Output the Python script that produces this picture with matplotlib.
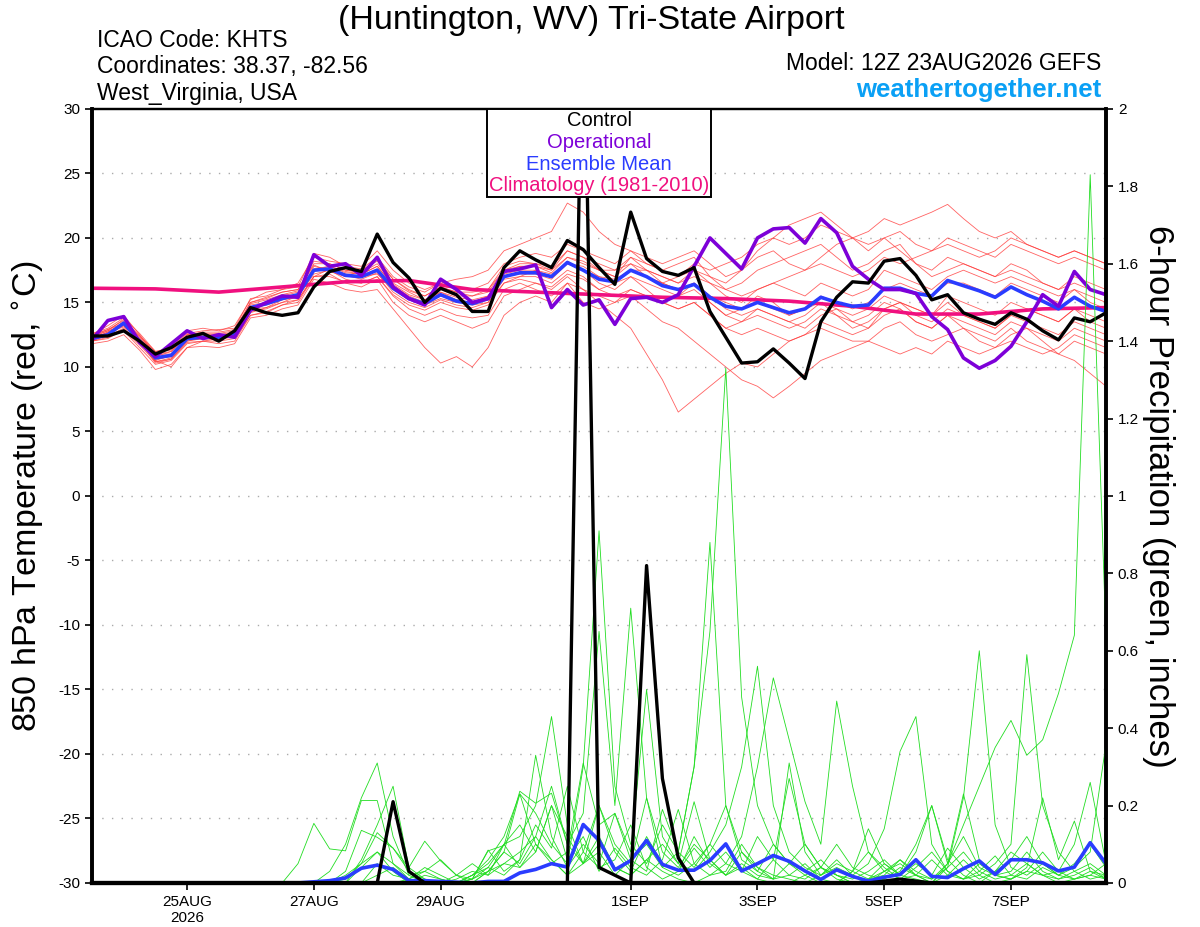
import numpy as np
import pandas as pd
import matplotlib
matplotlib.use("Agg")
import matplotlib.pyplot as plt
from matplotlib.offsetbox import TextArea, VPacker, AnchoredOffsetbox

plt.rcParams['font.family'] = ['Liberation Sans', 'DejaVu Sans']
plt.rcParams['axes.unicode_minus'] = False

# 6-hourly forecast times, 12Z 23AUG2026 + 0..384 h
times = pd.date_range('2026-08-23 12:00', periods=65, freq='6h')
clim_times = pd.date_range('2026-08-23 12:00', periods=17, freq='D')

# --- 850 hPa temperature (C) ---
t_mean = [12.2, 12.5, 13.4, 12.0, 10.7, 10.9, 12.2, 12.3, 12.3, 12.5, 14.6, 14.9, 15.3, 15.6,
          17.5, 17.6, 17.1, 17.0, 17.5, 16.1, 15.3, 14.9, 15.6, 15.1, 14.9, 15.3, 17.0, 17.3,
          17.3, 17.0, 18.1, 17.5, 16.8, 16.6, 17.5, 17.0, 16.3, 16.0, 16.4, 15.4, 14.7, 14.5,
          15.0, 14.6, 14.2, 14.5, 15.4, 15.0, 14.7, 14.8, 16.1, 16.1, 15.7, 15.5, 16.7, 16.3,
          15.9, 15.4, 16.2, 15.6, 15.1, 14.5, 15.4, 14.7, 14.3]
t_ctrl = [12.4, 12.4, 12.8, 12.0, 11.0, 11.5, 12.3, 12.6, 12.0, 12.8, 14.6, 14.2, 14.0, 14.2,
          16.2, 17.4, 17.7, 17.4, 20.3, 18.1, 16.9, 15.0, 16.1, 15.6, 14.3, 14.3, 17.7, 19.0,
          18.3, 17.7, 19.8, 19.1, 17.7, 16.4, 22.0, 18.4, 17.4, 17.1, 17.7, 14.3, 12.3, 10.3,
          10.4, 11.4, 10.3, 9.1, 13.5, 15.4, 16.6, 16.5, 18.2, 18.4, 17.1, 15.2, 15.6, 14.2,
          13.7, 13.3, 14.2, 13.7, 12.8, 12.1, 13.8, 13.5, 14.2]
t_oper = [12.1, 13.6, 13.9, 11.9, 10.8, 11.8, 12.8, 12.2, 12.5, 12.3, 14.4, 15.0, 15.5, 15.4,
          18.7, 17.8, 18.0, 17.1, 18.5, 16.2, 15.3, 14.8, 16.8, 16.0, 15.0, 15.3, 17.4, 17.6,
          17.9, 14.6, 16.0, 14.8, 15.2, 13.3, 15.3, 15.4, 15.0, 15.6, 17.8, 20.0, 18.8, 17.6,
          20.0, 20.7, 20.8, 19.6, 21.5, 20.4, 17.8, 16.8, 16.0, 16.0, 15.7, 13.9, 12.9, 10.7,
          9.9, 10.5, 11.6, 13.5, 15.6, 14.7, 17.4, 16.0, 15.6]
t_clim = [16.1, 16.05, 15.8, 16.2, 16.6, 16.7, 16.0, 15.8, 15.6, 15.4, 15.3, 15.1, 14.7,
          14.1, 14.1, 14.5, 14.6]

t_members = [
    [12.5, 13.2, 14.0, 12.5, 11.0, 11.5, 12.8, 13.0, 12.8, 13.2, 15.2, 15.8, 16.0, 16.5, 18.5, 18.2, 18.0,
     17.8, 19.0, 17.5, 16.5, 16.0, 16.5, 16.8, 17.0, 17.5, 19.0, 19.5, 20.0, 20.5, 22.7, 22.0, 20.5, 19.5,
     19.0, 18.0, 17.5, 18.0, 18.5, 17.0, 16.0, 16.5, 17.5, 18.0, 18.5, 19.0, 19.5, 18.5, 17.5, 18.0, 19.0,
     19.5, 18.0, 17.0, 17.5, 18.0, 17.5, 17.0, 18.0, 17.5, 16.5, 16.0, 17.0, 16.5, 16.0],
    [12.0, 12.3, 12.8, 11.5, 10.2, 10.5, 11.8, 12.0, 11.8, 12.0, 14.0, 14.2, 14.8, 15.0, 17.0, 17.2, 16.5,
     16.2, 16.8, 15.0, 14.0, 13.5, 14.0, 13.5, 13.0, 13.5, 15.5, 16.0, 16.5, 16.0, 17.0, 16.0, 15.0, 14.0,
     13.0, 11.0, 9.0, 6.5, 7.5, 8.5, 9.5, 10.3, 10.0, 11.0, 12.0, 12.5, 13.5, 13.0, 12.5, 13.0, 14.0,
     14.5, 13.5, 13.0, 14.0, 13.5, 13.0, 12.5, 13.5, 13.0, 12.5, 12.0, 13.0, 12.5, 12.0],
    [12.3, 12.8, 13.2, 12.0, 10.5, 10.0, 11.5, 12.0, 12.2, 12.3, 14.5, 14.6, 15.0, 15.5, 17.8, 17.5, 16.8,
     16.5, 17.0, 15.5, 14.5, 14.0, 14.5, 14.0, 13.8, 14.0, 16.0, 16.5, 16.0, 15.5, 16.5, 15.0, 14.5, 15.0,
     15.5, 14.5, 13.5, 13.0, 12.0, 11.0, 10.0, 9.0, 8.5, 7.6, 8.5, 9.5, 10.5, 11.0, 11.5, 12.0, 13.0,
     13.5, 12.5, 12.0, 12.5, 13.0, 12.0, 11.5, 12.5, 13.0, 12.0, 11.0, 12.0, 11.5, 11.0],
    [12.4, 12.9, 13.6, 12.2, 10.8, 11.2, 12.4, 12.5, 12.6, 12.8, 15.0, 15.3, 15.8, 16.0, 18.0, 18.0, 17.5,
     17.3, 18.0, 16.5, 15.8, 15.2, 16.0, 15.5, 15.5, 16.0, 17.5, 18.0, 18.0, 17.5, 19.0, 18.5, 17.5, 17.0,
     18.5, 18.0, 17.5, 17.0, 18.0, 17.5, 18.0, 18.5, 19.5, 20.0, 19.5, 20.0, 21.0, 20.5, 20.0, 20.5, 21.5,
     21.0, 21.5, 22.0, 22.6, 21.5, 20.5, 20.0, 20.5, 19.5, 19.0, 18.5, 19.0, 18.5, 18.0],
    [12.1, 12.4, 13.0, 11.8, 10.6, 10.8, 12.0, 12.2, 12.1, 12.4, 14.2, 14.6, 15.2, 15.4, 17.2, 17.5, 17.0,
     17.0, 17.2, 16.0, 15.2, 14.8, 15.3, 15.0, 14.8, 15.0, 16.8, 17.0, 17.5, 17.2, 18.0, 17.8, 17.0, 16.5,
     17.0, 16.5, 16.0, 15.5, 16.0, 15.0, 14.0, 13.5, 14.5, 14.0, 13.5, 13.0, 14.0, 14.5, 13.5, 13.0, 14.5,
     15.0, 14.5, 14.0, 15.5, 15.0, 14.5, 14.0, 15.0, 14.5, 14.0, 13.5, 14.5, 13.5, 13.0],
    [12.2, 12.7, 13.5, 12.3, 11.0, 11.0, 12.3, 12.5, 12.4, 12.6, 14.8, 15.0, 15.5, 15.8, 17.6, 17.8, 17.3,
     17.2, 17.8, 16.3, 15.5, 15.0, 15.8, 15.2, 15.0, 15.5, 17.2, 17.5, 17.5, 17.0, 18.2, 17.5, 16.5, 16.0,
     17.0, 16.0, 15.0, 15.5, 16.5, 15.0, 14.0, 14.5, 15.5, 15.0, 14.0, 14.5, 15.0, 14.0, 13.5, 14.0, 15.0,
     14.5, 13.5, 13.0, 14.0, 13.0, 12.5, 12.0, 13.0, 12.0, 11.5, 11.0, 10.5, 9.5, 8.5],
    [12.6, 13.0, 13.8, 12.6, 11.2, 11.5, 12.6, 12.8, 12.9, 13.0, 15.3, 15.5, 16.0, 16.2, 18.8, 18.5, 17.8,
     17.6, 18.5, 17.0, 16.2, 15.8, 16.5, 16.0, 16.0, 16.5, 18.0, 18.5, 18.8, 18.5, 19.5, 19.0, 18.5, 18.0,
     19.0, 18.5, 18.0, 18.5, 19.0, 18.0, 17.0, 17.5, 18.5, 19.0, 18.0, 17.5, 18.5, 19.5, 20.0, 19.0, 20.0,
     20.5, 19.5, 19.0, 20.0, 19.5, 19.0, 18.5, 19.5, 19.0, 18.5, 18.0, 18.5, 18.0, 17.5],
    [11.8, 12.0, 12.5, 11.3, 9.8, 10.2, 11.5, 11.6, 11.5, 11.8, 13.8, 14.0, 14.5, 14.8, 16.8, 16.5, 16.0,
     15.8, 16.0, 14.5, 13.0, 11.5, 10.3, 10.8, 10.0, 11.5, 14.0, 15.0, 15.5, 15.0, 16.5, 16.0, 15.5, 15.0,
     16.0, 15.5, 15.0, 14.5, 15.0, 14.0, 13.0, 13.5, 14.0, 13.5, 13.0, 13.5, 14.5, 14.0, 13.0, 13.5, 14.5,
     15.0, 14.0, 13.5, 14.5, 14.0, 13.5, 13.0, 14.0, 13.5, 13.0, 12.5, 13.5, 13.0, 12.5],
    [12.3, 12.6, 13.2, 12.1, 10.4, 10.7, 12.1, 12.2, 12.3, 12.5, 14.6, 14.8, 15.2, 15.6, 17.4, 17.6, 17.2,
     17.0, 17.6, 16.2, 15.4, 14.9, 15.5, 15.2, 15.0, 15.2, 17.0, 17.2, 17.2, 16.8, 18.0, 17.5, 17.0, 16.8,
     17.5, 17.0, 16.5, 16.0, 16.5, 15.5, 15.0, 14.5, 15.0, 14.5, 14.0, 14.5, 15.5, 15.0, 14.5, 15.0, 16.0,
     16.5, 16.0, 15.5, 16.5, 16.5, 16.0, 15.5, 16.5, 16.0, 15.5, 15.0, 16.0, 15.0, 14.5],
    [12.0, 12.5, 13.3, 12.0, 10.3, 10.6, 12.0, 12.3, 12.4, 12.6, 14.4, 15.0, 15.5, 15.6, 17.5, 17.8, 17.4,
     17.2, 17.8, 16.4, 15.6, 15.2, 15.8, 15.4, 15.2, 15.5, 17.3, 17.8, 17.8, 17.5, 18.5, 18.0, 17.5, 17.0,
     18.0, 17.5, 17.0, 16.5, 17.5, 17.0, 16.5, 17.5, 19.0, 20.0, 21.0, 21.5, 22.0, 21.0, 20.0, 19.5, 20.0,
     19.0, 18.0, 17.5, 18.5, 18.0, 17.5, 17.0, 17.5, 17.0, 16.5, 16.0, 16.5, 16.0, 15.5],
    [12.5, 12.9, 13.4, 12.4, 11.2, 11.3, 12.5, 12.6, 12.5, 12.7, 14.9, 15.2, 15.6, 15.9, 17.9, 17.4, 17.0,
     17.5, 18.2, 16.8, 15.9, 15.5, 16.2, 15.8, 15.5, 15.8, 17.5, 17.8, 17.8, 17.3, 18.5, 18.2, 17.5, 17.5,
     18.5, 17.5, 16.5, 16.0, 16.5, 15.5, 14.5, 14.0, 14.5, 14.0, 13.5, 14.0, 15.0, 14.5, 14.0, 14.5, 15.5,
     15.0, 14.5, 14.0, 15.0, 14.0, 13.5, 13.0, 14.0, 14.5, 14.0, 13.5, 14.5, 14.0, 13.5],
    [12.2, 12.7, 13.1, 12.1, 10.5, 10.9, 12.2, 12.4, 12.2, 12.4, 14.3, 14.5, 15.0, 15.2, 17.0, 17.6, 17.1,
     16.8, 17.3, 15.8, 15.0, 14.6, 15.2, 14.8, 14.6, 15.0, 16.5, 17.0, 17.0, 16.5, 17.5, 17.0, 16.0, 16.5,
     17.5, 17.5, 17.0, 16.5, 17.0, 16.5, 16.0, 15.5, 16.0, 16.5, 16.0, 15.5, 16.5, 16.0, 15.5, 16.0, 17.5,
     17.0, 16.5, 16.0, 17.0, 17.5, 17.0, 16.5, 17.0, 16.5, 16.0, 15.5, 16.0, 15.5, 15.0],
    [12.4, 12.8, 13.7, 12.4, 11.0, 11.2, 12.5, 12.7, 12.7, 12.9, 15.0, 15.4, 15.8, 16.0, 18.2, 18.0, 17.5,
     17.4, 18.4, 16.8, 16.0, 15.5, 16.2, 15.8, 15.8, 16.0, 17.8, 18.2, 18.0, 17.8, 19.0, 18.5, 18.0, 17.5,
     18.0, 17.0, 16.5, 17.0, 17.5, 16.5, 15.5, 15.0, 16.0, 16.5, 17.0, 17.5, 18.0, 17.5, 17.0, 17.5, 18.5,
     18.0, 18.5, 19.0, 19.5, 19.0, 18.5, 19.0, 20.0, 19.5, 19.0, 18.5, 19.0, 18.5, 18.0],
    [12.0, 12.2, 12.9, 11.7, 10.4, 10.6, 11.9, 12.0, 12.0, 12.2, 14.0, 14.3, 14.8, 15.2, 17.0, 17.0, 16.6,
     16.5, 17.0, 15.6, 14.8, 14.4, 15.0, 14.6, 14.4, 14.8, 16.5, 16.8, 16.5, 16.2, 17.2, 16.8, 16.0, 15.5,
     16.0, 15.5, 15.0, 14.5, 15.0, 14.0, 13.0, 12.5, 13.0, 12.5, 12.0, 12.5, 13.0, 12.5, 12.0, 12.0, 11.5,
     11.0, 11.5, 11.0, 12.0, 11.5, 11.0, 11.5, 12.0, 11.5, 11.0, 11.5, 12.5, 12.0, 11.5],
]

# --- 6-hour precipitation (inches) ---
p_mean = [0] * 14 + [0.003, 0.006, 0.013, 0.038, 0.046, 0.035, 0.006, 0.006, 0.004, 0.002, 0.0,
          0.004, 0.004, 0.026, 0.035, 0.05, 0.041, 0.151, 0.11, 0.034, 0.058, 0.11, 0.048, 0.033,
          0.033, 0.058, 0.101, 0.031, 0.05, 0.071, 0.056, 0.031, 0.009, 0.034, 0.017, 0.005, 0.015,
          0.022, 0.06, 0.017, 0.014, 0.037, 0.057, 0.022, 0.06, 0.06, 0.052, 0.031, 0.041, 0.104, 0.05]
p_ctrl = [0] * 19 + [0.21, 0.03] + [0] * 10 + [2.4, 0.04, 0.02, 0.0, 0.82, 0.27, 0.065] + [0] * 12 + \
         [0.005, 0.01, 0.005] + [0] * 12

p_members = [
    [0] * 16 + [0.02, 0.05, 0.08, 0.03, 0, 0, 0, 0, 0.01, 0.03, 0.05, 0.08, 0.12, 0.06, 0.02, 0.05, 0.10,
                0.04, 0.02, 0.06, 0.03, 0.01, 0, 0.02, 0.05, 0.03, 0.01, 0, 0, 0.02, 0.04, 0.01, 0, 0,
                0.03, 0.06, 0.02, 0, 0.05, 0.15, 0.25, 0.35, 0.42, 0.33, 0.37, 0.49, 0.64, 1.83, 0.63],
    [0] * 15 + [0.03, 0.10, 0.22, 0.31, 0.12, 0.02, 0, 0, 0, 0.02, 0.04, 0.10, 0.15, 0.08, 0.20, 0.12,
                0.05, 0.08, 0.02, 0.06, 0.10, 0.04, 0.08, 0.30, 0.65, 1.33, 0.48, 0.20, 0.10, 0.05, 0.03,
                0.06, 0.02, 0, 0.01, 0.03, 0.05, 0.02, 0, 0.04, 0.08, 0.03, 0.01, 0.02, 0.05, 0.02, 0.01,
                0.03, 0.05, 0.02],
    [0] * 16 + [0.01, 0.05, 0.13, 0.09, 0.03, 0.01, 0, 0, 0.02, 0.06, 0.12, 0.23, 0.18, 0.10, 0.05, 0.30,
                0.91, 0.25, 0.10, 0.05, 0.15, 0.08, 0.30, 0.88, 0.20, 0.08, 0.03, 0.10, 0.05, 0.02, 0, 0,
                0.03, 0.14, 0.05, 0.02, 0.01, 0, 0.02, 0.06, 0.02, 0, 0.01, 0.03, 0.02, 0, 0.01, 0.02,
                0.01],
    [0] * 17 + [0.04, 0.08, 0.05, 0.02, 0.03, 0.01, 0, 0, 0.03, 0.08, 0.05, 0.12, 0.25, 0.10, 0.18, 0.65,
                0.20, 0.71, 0.22, 0.08, 0.04, 0.10, 0.06, 0.02, 0.08, 0.04, 0.01, 0.05, 0.10, 0.04, 0.02,
                0, 0.01, 0.05, 0.02, 0.08, 0.20, 0.06, 0.02, 0, 0.03, 0.08, 0.05, 0.02, 0.03, 0.10, 0.26,
                0.05],
    [0] * 18 + [0.02, 0.04, 0.01, 0, 0, 0, 0.02, 0.05, 0.10, 0.12, 0.20, 0.43, 0.15, 0.05, 0.12, 0.04,
                0.02, 0.06, 0.10, 0.05, 0.03, 0.08, 0.15, 0.30, 0.56, 0.20, 0.08, 0.04, 0.02, 0.05, 0.03,
                0.01, 0.02, 0.06, 0.03, 0.01, 0.04, 0.22, 0.60, 0.15, 0.04, 0.02, 0.05, 0.02, 0.01, 0.03,
                0.02],
    [0] * 20 + [0.01, 0.03, 0.06, 0.02, 0, 0.03, 0.08, 0.23, 0.10, 0.05, 0.08, 0.31, 0.15, 0.18, 0.06,
                0.03, 0.19, 0.08, 0.04, 0.10, 0.05, 0.12, 0.30, 0.53, 0.37, 0.21, 0.10, 0.47, 0.25, 0.08,
                0.03, 0.01, 0.04, 0.08, 0.03, 0.01, 0.02, 0.05, 0.10, 0.59, 0.20, 0.08, 0.03, 0.01, 0.02],
    [0] * 21 + [0.02, 0.01, 0, 0.01, 0.085, 0.03, 0.06, 0.33, 0.12, 0.04, 0.10, 0.05, 0.18, 0.08, 0.50,
                0.12, 0.05, 0.21, 0.06, 0.02, 0.05, 0.02, 0.01, 0.31, 0.08, 0.02, 0.04, 0.02, 0.05, 0.14,
                0.34, 0.43, 0.10, 0.03, 0.01, 0.05, 0.02, 0.01, 0.04, 0.22, 0.06, 0.16, 0.03, 0.01],
    [0] * 13 + [0.05, 0.154, 0.088, 0.083, 0.213, 0.213, 0.05, 0.01, 0, 0, 0.02, 0.05, 0.02, 0.10, 0.04,
                0.08, 0.20, 0.06, 0.12, 0.03, 0.09, 0.04, 0.02, 0.06, 0.19, 0.05, 0.02, 0.03, 0.10, 0.04,
                0.02, 0.01, 0, 0.02, 0.06, 0.02, 0, 0.01, 0.03, 0.10, 0.20, 0.05, 0.23, 0.06, 0.02, 0.03,
                0.08, 0.03, 0.01, 0.02, 0.04, 0.01],
    [0] * 16 + [0.03, 0.136, 0.118, 0.09, 0.04, 0.108, 0.057, 0.02, 0.01, 0.083, 0.097, 0.237, 0.206,
                0.232, 0.10, 0.05, 0.20, 0.08, 0.03, 0.12, 0.05, 0.03, 0.09, 0.04, 0.08, 0.03, 0.12, 0.06,
                0.27, 0.10, 0.04, 0.02, 0.01, 0.03, 0.06, 0.02, 0.05, 0.02, 0.09, 0.04, 0.01, 0.03, 0.06,
                0.12, 0.05, 0.02, 0.04, 0.08, 0.36],
    [0] * 17 + [0.06, 0.15, 0.25, 0.04, 0.01, 0, 0.01, 0.03, 0.02, 0.05, 0.04, 0.10, 0.06, 0.02, 0.08,
                0.20, 0.10, 0.05, 0.22, 0.04, 0.02, 0.05, 0.10, 0.20, 0.06, 0.03, 0.01, 0.02, 0.05, 0.01,
                0, 0.03, 0.08, 0.04, 0.01, 0.02, 0.06, 0.02, 0.01, 0.03, 0.07, 0.02, 0.01, 0.04, 0.02,
                0.05, 0.10, 0.04],
    [0] * 18 + [0.05, 0.02, 0.01, 0.04, 0.02, 0, 0.01, 0.04, 0.02, 0.06, 0.15, 0.09, 0.25, 0.08, 0.04,
                0.06, 0.15, 0.04, 0.01, 0.03, 0.12, 0.05, 0.02, 0.04, 0.01, 0.06, 0.02, 0.01, 0.04, 0.10,
                0.04, 0.02, 0.01, 0.04, 0.02, 0.01, 0.05, 0.12, 0.04, 0.02, 0.01, 0.03, 0.08, 0.03, 0.01,
                0.02, 0.05],
]

tick_dates = pd.to_datetime(['2026-08-25', '2026-08-27', '2026-08-29', '2026-09-01',
                             '2026-09-03', '2026-09-05', '2026-09-07'])
tick_labels = ['25AUG\n2026', '27AUG', '29AUG', '1SEP', '3SEP', '5SEP', '7SEP']

RED = '#ff3b3b'
GREEN = '#22dd22'
PURPLE = '#7d00d8'
BLUE = '#2a3cff'
PINK = '#f0107f'

fig = plt.figure(figsize=(12, 9.27), dpi=100)
ax = fig.add_axes([0.0767, 0.0475, 0.845, 0.835])
ax2 = ax.twinx()

for m in t_members:
    ax.plot(times, m, color=RED, lw=0.6, alpha=0.8)
ax.plot(clim_times, t_clim, color=PINK, lw=2.6)
ax.plot(times, t_mean, color=BLUE, lw=2.6)
ax.plot(times, t_oper, color=PURPLE, lw=2.6)
ax.plot(times, t_ctrl, color='black', lw=2.4)

for m in p_members:
    ax2.plot(times, m, color=GREEN, lw=0.6)
ax2.plot(times, p_mean, color=BLUE, lw=2.6)
ax2.plot(times, p_ctrl, color='black', lw=2.4)

ax.set_ylim(-30, 30)
ax2.set_ylim(0, 2)
ax.set_xlim(times[0], times[-1])
ax.set_yticks(np.arange(-30, 31, 5))
ax2.set_yticks(np.arange(0, 2.01, 0.2))
ax2.set_yticklabels(['%g' % v for v in np.arange(0, 2.01, 0.2).round(1)])
for v in range(-25, 30, 5):
    ax.axhline(v, color='#aaaaaa', lw=1.0, ls=(0, (1, 6)), zorder=0)
ax.set_xticks(tick_dates)
ax.set_xticklabels(tick_labels)

ax.tick_params(axis='y', labelsize=11, length=5, width=1.2, direction='out')
ax2.tick_params(axis='y', labelsize=11, length=5, width=1.2, direction='out')
ax.tick_params(axis='x', labelsize=11, length=5, width=1.2, direction='out')
for a in (ax, ax2):
    a.spines['left'].set_linewidth(2.6)
    a.spines['right'].set_linewidth(2.6)
    a.spines['bottom'].set_linewidth(3.0)
    a.spines['top'].set_linewidth(1.6)

ax.set_ylabel('850 hPa Temperature (red, $^{\\circ}$C)', fontsize=24.5, labelpad=8)
ax2.set_ylabel('6-hour Precipitation (green, inches)', fontsize=25, rotation=-90, labelpad=26)

# legend box with centred coloured lines
entries = [('Control', 'black'), ('Operational', PURPLE), ('Ensemble Mean', BLUE),
           ('Climatology (1981-2010)', PINK)]
rows = [TextArea(t, textprops=dict(color=c, fontsize=14.5)) for t, c in entries]
pack = VPacker(children=rows, align='center', pad=0, sep=2)
box = AnchoredOffsetbox(loc='upper center', child=pack, pad=0.15, borderpad=0,
                        frameon=True, bbox_to_anchor=(0.5, 1.0), bbox_transform=ax2.transAxes)
box.patch.set_edgecolor('black')
box.patch.set_linewidth(1.4)
box.patch.set_boxstyle('square', pad=0)
box.set_zorder(10)
ax2.add_artist(box)

fig.text(0.493, 0.978, '(Huntington, WV) Tri-State Airport', fontsize=24.5, ha='center', va='center')
fig.text(0.081, 0.956, 'ICAO Code: KHTS', fontsize=16.5, ha='left', va='center')
fig.text(0.081, 0.928, 'Coordinates: 38.37, -82.56', fontsize=16.5, ha='left', va='center')
fig.text(0.081, 0.899, 'West_Virginia, USA', fontsize=16.5, ha='left', va='center')
fig.text(0.9175, 0.931, 'Model: 12Z 23AUG2026 GEFS', fontsize=16.5, ha='right', va='center')
fig.text(0.9175, 0.903, 'weathertogether.net', fontsize=18.5, ha='right', va='center',
         color='#0aa0f5', fontweight='bold')

fig.savefig('out.png', dpi=100)
